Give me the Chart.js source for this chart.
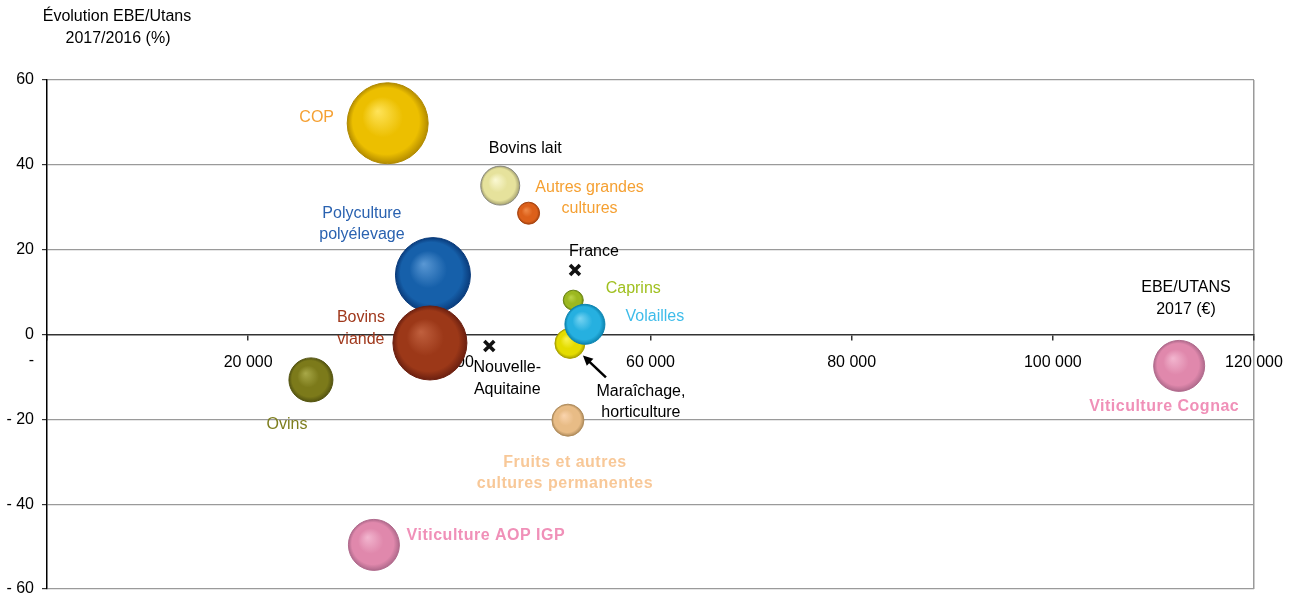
<!DOCTYPE html>
<html>
<head>
<meta charset="utf-8">
<script src="https://cdn.jsdelivr.net/npm/chart.js@4/dist/chart.umd.min.js"></script>
<style>
  html, body { margin: 0; padding: 0; background: #fff; }
  #wrap { width: 1290px; height: 597px; }
</style>
</head>
<body>
<div id="wrap"><canvas id="chart"></canvas></div>
<script>
// données
const filieres = ["COP", "Bovins lait", "Autres grandes cultures", "Polyculture polyélevage", "Bovins viande",
  "Ovins", "Caprins", "Maraîchage, horticulture", "Volailles", "Fruits et autres cultures permanentes",
  "Viticulture Cognac", "Viticulture AOP IGP"];
const ebeUtans = [33870, 45060, 47880, 38370, 38070, 26240, 52320, 51990, 53480, 51790, 112560, 32500];
const evolution = [49.8, 35.1, 28.6, 14.0, -2.0, -10.7, 8.1, -2.1, 2.4, -20.2, -7.4, -49.6];
const tailles = [40.5, 19.5, 11, 37.5, 37, 22, 10, 15, 20, 16, 25.5, 25.5];

const reperes = ["France", "Nouvelle-Aquitaine"];
const repereX = [52490, 43970];
const repereY = [15.2, -2.7];

const xTicks = [0, 20000, 40000, 60000, 80000, 100000, 120000];
const yTicks = [-60, -40, -20, 0, 20, 40, 60];

// couleurs des bulles : clair, base, sombre
const teinteClaire = ["#ffe45a", "#fbf9d4", "#f08a48", "#5a98d4", "#c0603e", "#a8a848", "#bcd448", "#f8f250", "#78d4f2", "#fad4ae", "#f2b6cf", "#f2b6cf"];
const teinte = ["#ecbf00", "#e6e29c", "#dc601a", "#1660aa", "#9c3818", "#7c7a1a", "#9cb820", "#e4dc00", "#26b0e0", "#e8bc86", "#e088ac", "#e088ac"];
const teinteSombre = ["#b48c00", "#a6a270", "#a84410", "#0a3c7c", "#6c2010", "#545410", "#6c8614", "#aaa200", "#0c84b0", "#b08c5c", "#b06a8c", "#b06a8c"];
const bordure = ["#b08a00", "#8a8a80", "#a84410", "#0a3c7c", "#6c2010", "#545410", "#6c8614", "#aaa200", "#0c84b0", "#b08c5c", "#b06a8c", "#b06a8c"];

// étiquettes : décalage en pixels par rapport au centre de la bulle
const etiquettes = [
  { i: 0, lignes: ["COP"], dx: -71, dy: -6, color: "#f5a032" },
  { i: 1, lignes: ["Bovins lait"], dx: 25, dy: -37, color: "#000" },
  { i: 2, lignes: ["Autres grandes", "cultures"], dx: 61, dy: -26, color: "#f5a032" },
  { i: 3, lignes: ["Polyculture", "polyélevage"], dx: -71, dy: -62, color: "#2a62b0" },
  { i: 4, lignes: ["Bovins", "viande"], dx: -69, dy: -25, color: "#a0381c" },
  { i: 5, lignes: ["Ovins"], dx: -24, dy: 45, color: "#7e7e1e" },
  { i: 6, lignes: ["Caprins"], dx: 60, dy: -12, color: "#a0c020" },
  { i: 8, lignes: ["Volailles"], dx: 70, dy: -8, color: "#3ebcea" },
  { i: 7, lignes: ["Maraîchage,", "horticulture"], dx: 71, dy: 48, color: "#000" },
  { i: 9, lignes: ["Fruits et autres", "cultures permanentes"], dx: -3, dy: 42, color: "#f8c898", bold: true },
  { i: 10, lignes: ["Viticulture Cognac"], dx: -15, dy: 41, color: "#f090b8", bold: true },
  { i: 11, lignes: ["Viticulture AOP IGP"], dx: 112, dy: -9, color: "#f090b8", bold: true }
];
const etiquettesReperes = [
  { lignes: ["France"], dx: 19, dy: -18 },
  { lignes: ["Nouvelle-", "Aquitaine"], dx: 18, dy: 22 }
];

const FONT = "'Liberation Sans', Arial, sans-serif";

function fmt(v) {
  return String(v).replace(/\B(?=(\d{3})+(?!\d))/g, " ");
}

function gradient(ctx) {
  const i = ctx.dataIndex;
  const chart = ctx.chart;
  const xs = chart.scales.x, ys = chart.scales.y;
  if (ctx.type !== "data" || !xs || !ys || !ctx.raw) return teinte[i];
  const cx = xs.getPixelForValue(ctx.raw.x);
  const cy = ys.getPixelForValue(ctx.raw.y);
  const r = ctx.raw.r;
  if (!isFinite(cx) || !isFinite(cy)) return teinte[i];
  const g = chart.ctx.createRadialGradient(cx - r * 0.25, cy - r * 0.3, 0, cx, cy, r);
  g.addColorStop(0, teinteClaire[i]);
  g.addColorStop(0.5, teinte[i]);
  g.addColorStop(0.82, teinte[i]);
  g.addColorStop(1, teinteSombre[i]);
  return g;
}

const textes = {
  id: "textes",
  afterDatasetsDraw(chart) {
    const c = chart.ctx;
    const meta = chart.getDatasetMeta(0);
    const metaR = chart.getDatasetMeta(1);
    c.save();
    c.textAlign = "center";
    c.textBaseline = "middle";

    for (const e of etiquettes) {
      const pt = meta.data[e.i];
      c.font = (e.bold ? "bold " : "") + "16px " + FONT;
      c.letterSpacing = e.bold ? "0.5px" : "0px";
      c.fillStyle = e.color;
      e.lignes.forEach((l, k) => c.fillText(l, pt.x + e.dx, pt.y + e.dy + k * 21.5));
    }
    c.letterSpacing = "0px";
    c.font = "16px " + FONT;
    c.fillStyle = "#000";
    etiquettesReperes.forEach((e, j) => {
      const pt = metaR.data[j];
      e.lignes.forEach((l, k) => c.fillText(l, pt.x + e.dx, pt.y + e.dy + k * 21.5));
    });

    // flèche Maraîchage
    const m = meta.data[7];
    const x1 = m.x + 36, y1 = m.y + 34, x2 = m.x + 13, y2 = m.y + 12;
    c.strokeStyle = "#000";
    c.lineWidth = 2.5;
    c.beginPath();
    c.moveTo(x1, y1);
    c.lineTo(x2 + 5, y2 + 5);
    c.stroke();
    const a = Math.atan2(y2 - y1, x2 - x1);
    c.beginPath();
    c.moveTo(x2, y2);
    c.lineTo(x2 - 11 * Math.cos(a - 0.45), y2 - 11 * Math.sin(a - 0.45));
    c.lineTo(x2 - 11 * Math.cos(a + 0.45), y2 - 11 * Math.sin(a + 0.45));
    c.closePath();
    c.fillStyle = "#000";
    c.fill();

    // titres des axes
    const area = chart.chartArea;
    c.fillStyle = "#000";
    c.fillText("Évolution EBE/Utans", 117, 17);
    c.fillText("2017/2016 (%)", 118, 39);
    c.fillText("EBE/UTANS", area.right - 68, 288);
    c.fillText("2017 (€)", area.right - 68, 310);
    c.textAlign = "right";
    c.fillText("-", 34, 361);
    c.restore();
  }
};

new Chart(document.getElementById("chart"), {
  type: "bubble",
  data: {
    datasets: [
      {
        label: "Filières",
        data: filieres.map((f, i) => ({ x: ebeUtans[i], y: evolution[i], r: tailles[i] })),
        backgroundColor: gradient,
        borderColor: ctx => bordure[ctx.dataIndex],
        borderWidth: 1,
        hoverRadius: 0
      },
      {
        label: "Repères",
        data: reperes.map((n, i) => ({ x: repereX[i], y: repereY[i], r: 7 })),
        pointStyle: "crossRot",
        backgroundColor: "#111",
        borderColor: "#111",
        borderWidth: 3.6
      }
    ]
  },
  options: {
    responsive: true,
    maintainAspectRatio: false,
    animation: false,
    layout: { autoPadding: false, padding: { top: 80, right: 36, bottom: 8, left: 0 } },
    plugins: { legend: { display: false }, tooltip: { enabled: false } },
    scales: {
      x: {
        type: "linear",
        min: 0,
        max: 120000,
        position: { y: 0 },
        afterBuildTicks: s => { s.ticks = xTicks.map(v => ({ value: v })); },
        afterFit: s => { s.height = 0; s.paddingLeft = 0; s.paddingRight = 0; s.paddingTop = 0; s.paddingBottom = 0; },
        ticks: {
          callback: v => v === 0 ? "" : fmt(v),
          color: "#000",
          font: { family: FONT, size: 16 },
          padding: 13,
          maxRotation: 0,
          autoSkip: false
        },
        grid: {
          color: c => c.tick && c.tick.value === 120000 ? "#9a9a9a" : "rgba(0,0,0,0)",
          tickColor: "#333",
          tickLength: 5,
          lineWidth: 1.5
        },
        border: { color: "#333", width: 1.5 }
      },
      y: {
        type: "linear",
        min: -60,
        max: 60,
        afterBuildTicks: s => { s.ticks = yTicks.map(v => ({ value: v })); },
        afterFit: s => { s.width = 47; s.paddingTop = 0; s.paddingBottom = 0; },
        ticks: {
          callback: v => v < 0 ? "- " + Math.abs(v) : String(v),
          color: "#000",
          font: { family: FONT, size: 16 },
          padding: 8
        },
        grid: {
          color: c => c.tick && c.tick.value === 0 ? "rgba(0,0,0,0)" : "#9a9a9a",
          tickColor: "#333",
          tickLength: 5,
          lineWidth: 1.2
        },
        border: { color: "#000", width: 1.5 }
      }
    }
  },
  plugins: [textes]
});
</script>
</body>
</html>
